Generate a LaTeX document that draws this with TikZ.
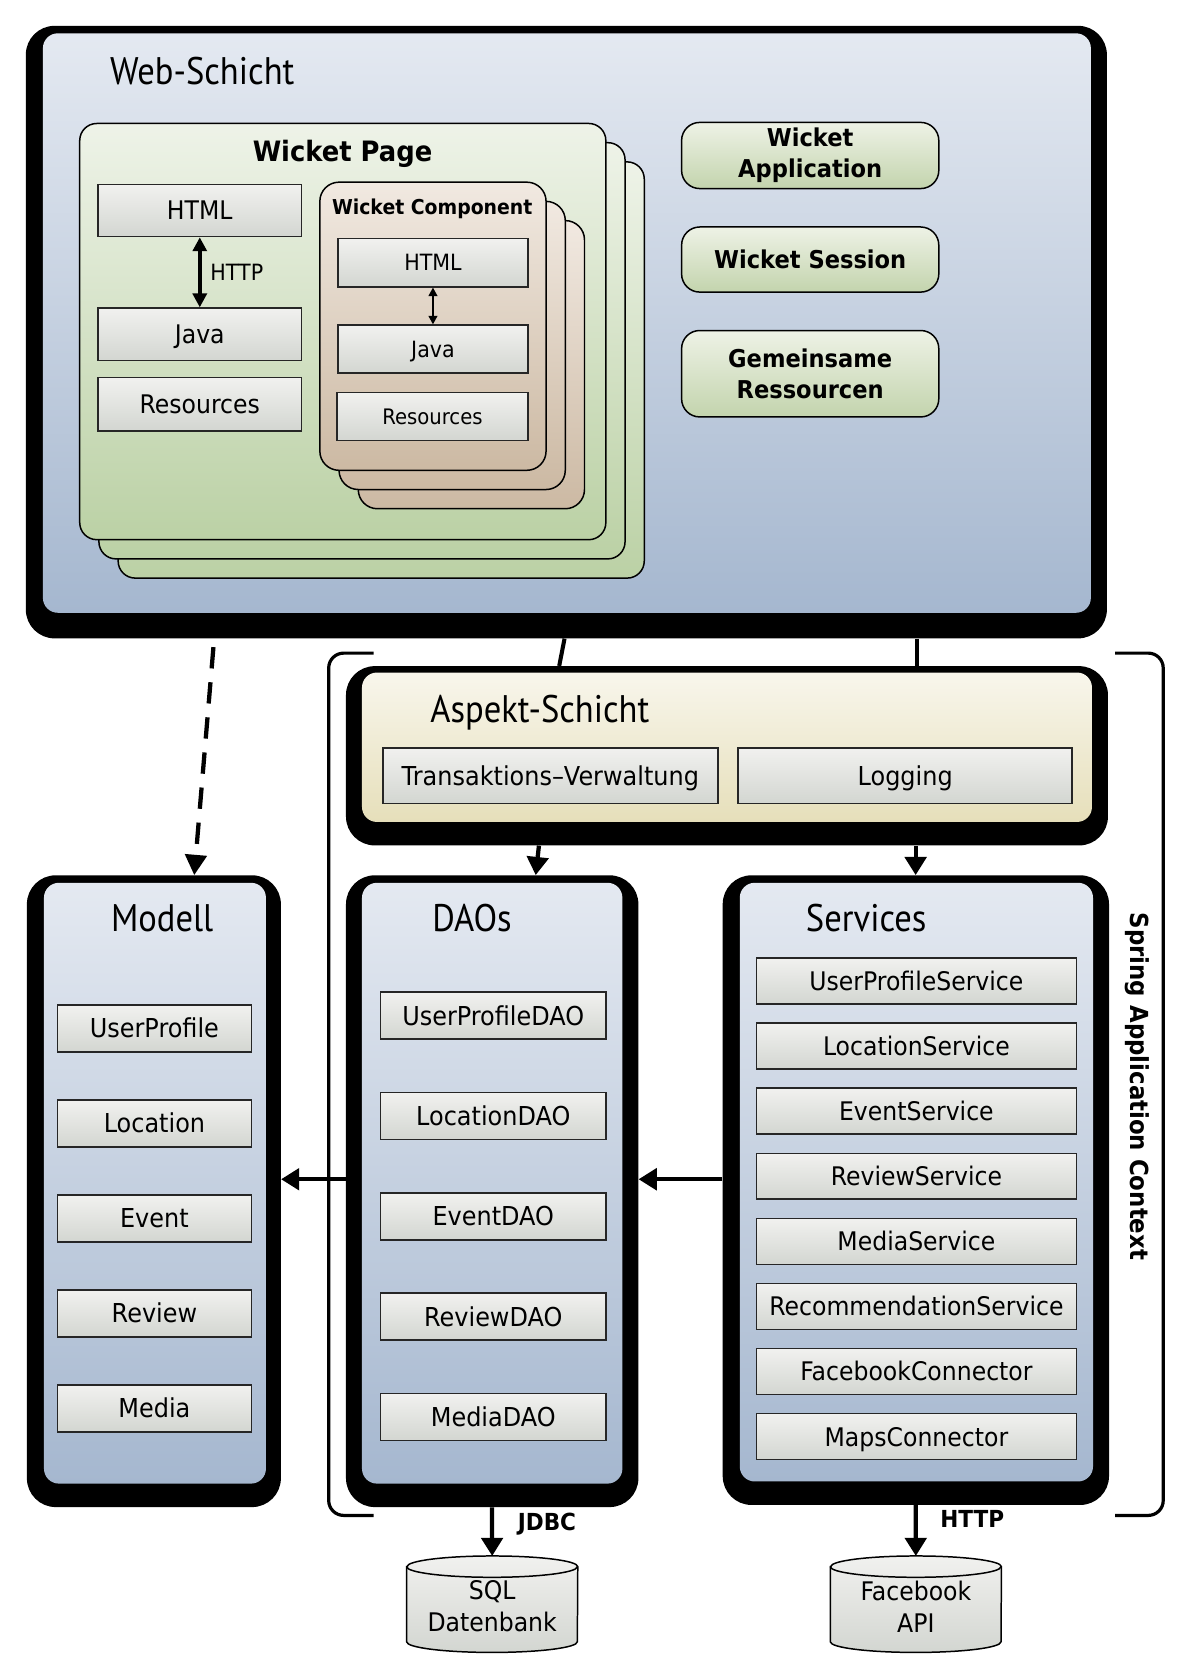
\documentclass[tikz,border=0pt]{standalone}
\usepackage{fontspec}
\setmainfont{DejaVu Sans}
\newfontfamily\luc[FakeStretch=0.92]{DejaVu Sans}
\newfontfamily\ttl[FakeStretch=0.9]{PT Sans}
\usetikzlibrary{arrows.meta,calc}
\definecolor{bluetop}{HTML}{E4E9F1}
\definecolor{bluebot}{HTML}{A5B7CF}
\definecolor{greentop}{HTML}{EEF3E8}
\definecolor{greenbot}{HTML}{BBD1A5}
\definecolor{btntop}{HTML}{EEF2E6}
\definecolor{btnbot}{HTML}{C3D4AD}
\definecolor{tantop}{HTML}{F1E9E1}
\definecolor{tanbot}{HTML}{CCB9A3}
\definecolor{yeltop}{HTML}{F8F6EC}
\definecolor{yelbot}{HTML}{E6DFBA}
\definecolor{itemtop}{HTML}{F1F1EF}
\definecolor{itembot}{HTML}{D3D6D1}
\tikzset{
  outerbox/.style={fill=black, rounded corners=27pt, inner sep=0pt, anchor=north west},
  bluebox/.style={top color=bluetop, bottom color=bluebot, rounded corners=14pt, inner sep=0pt, anchor=north west},
  yelbox/.style={top color=yeltop, bottom color=yelbot, rounded corners=14pt, inner sep=0pt, anchor=north west},
  pagebox/.style={draw=black, line width=1.4pt, top color=greentop, bottom color=greenbot, rounded corners=16pt, inner sep=0pt, anchor=north west, minimum width=493pt, minimum height=390pt},
  compbox/.style={draw=black, line width=1.4pt, top color=tantop, bottom color=tanbot, rounded corners=18pt, inner sep=0pt, anchor=north west, minimum width=212pt, minimum height=270pt},
  btnbox/.style={draw=black, line width=1.4pt, top color=btntop, bottom color=btnbot, rounded corners=17pt, inner sep=0pt, anchor=north west, minimum width=241pt, align=center, font={\luc\bfseries\fontsize{23}{29}\selectfont}},
  itembox/.style={draw=black!85, line width=1.4pt, top color=itemtop, bottom color=itembot, rectangle, inner sep=0pt, anchor=north west},
  itemfont/.style={font={\luc\fontsize{#1}{#1}\selectfont}, text height=\fpeval{0.76*#1}pt, text depth=\fpeval{0.03*#1}pt},
  titletext/.style={anchor=base west, inner sep=0pt, font={\ttl\fontsize{36}{40}\selectfont}},
  conn/.style={line width=3.8pt},
  arr/.style={line width=4pt, -{Triangle[length=17pt,width=20pt]}},
  dasharr/.style={line width=4pt, dash pattern=on 20pt off 13pt, -{Triangle[length=19pt,width=20pt]}},
  dbl/.style={line width=3.5pt, {Triangle[length=13pt,width=13pt]}-{Triangle[length=13pt,width=13pt]}},
  sdbl/.style={line width=2pt, {Triangle[length=8pt,width=8pt]}-{Triangle[length=8pt,width=8pt]}},
  bracket/.style={line width=3pt, rounded corners=14pt},
  cylfill/.style={draw=black, line width=1.4pt, top color=itemtop, bottom color=itembot},
}
\begin{document}
\begin{tikzpicture}[x=1pt,y=-1pt]
\useasboundingbox (0,0) rectangle (1110.4,1563);

% ---------------- Web-Schicht ----------------
\node[outerbox, minimum width=1013pt, minimum height=574pt] (webo) at (24,24) {};
\node[bluebox, minimum width=982pt, minimum height=543pt] (web) at (40,31) {};
\node[titletext] (webt) at (103,79) {Web-Schicht};

% Wicket Page stack
\node[pagebox] (wp3) at (110,151) {};
\node[pagebox] (wp2) at (92,133) {};
\node[pagebox] (wp) at (74,115) {};
\node[anchor=base, inner sep=0pt, font={\luc\bfseries\fontsize{26.3}{30}\selectfont}] (wpt) at (321,151) {Wicket Page};

\node[itembox, itemfont=24, minimum width=191pt, minimum height=49pt] (html1) at (91,172) {HTML};
\node[itembox, itemfont=24, minimum width=191pt, minimum height=49pt] (java1) at (91,288) {Java};
\node[itembox, itemfont=24, minimum width=191pt, minimum height=50pt] (res1) at (91,353) {Resources};
\draw[dbl] (html1.south) -- (java1.north);
\node[anchor=base west, inner sep=0pt, font={\luc\fontsize{21}{24}\selectfont}] (httpl) at (197,263) {HTTP};

% Wicket Component stack
\node[compbox] (wc3) at (335,206) {};
\node[compbox] (wc2) at (317,188) {};
\node[compbox] (wc) at (299,170) {};
\node[anchor=base, inner sep=0pt, font={\luc\bfseries\fontsize{19.2}{22}\selectfont}] (wct) at (405,201) {Wicket Component};
\node[itembox, itemfont=21, minimum width=178pt, minimum height=45pt] (html2) at (316,223) {HTML};
\node[itembox, itemfont=21, minimum width=178pt, minimum height=45pt] (java2) at (316,304) {Java};
\node[itembox, itemfont=20, minimum width=179pt, minimum height=45pt] (res2) at (315,367) {Resources};
\draw[sdbl] (html2.south) -- (java2.north);

% Buttons
\node[btnbox, minimum height=62pt] (wapp) at (638,114) {Wicket\\Application};
\node[btnbox, minimum height=61pt] (wsess) at (638,212) {Wicket Session};
\node[btnbox, minimum height=81pt] (gres) at (638,309) {Gemeinsame\\Ressourcen};

% ---------------- Aspekt-Schicht ----------------
\node[outerbox, minimum width=714pt, minimum height=168pt] (aspo) at (324,624) {};
\node[yelbox, minimum width=684pt, minimum height=140pt] (asp) at (339,630) {};
\node[titletext] (aspt) at (403,677) {Aspekt-Schicht};
\node[itembox, itemfont=24.4, minimum width=314pt, minimum height=52pt] (trans) at (358,700) {Transaktions–Verwaltung};
\node[itembox, itemfont=24.4, minimum width=313pt, minimum height=52pt] (logg) at (691,700) {Logging};

% ---------------- Modell ----------------
\node[outerbox, minimum width=238pt, minimum height=592pt] (modo) at (25,820) {};
\node[bluebox, minimum width=208pt, minimum height=563pt] (mod) at (41,827) {};
\node[titletext, anchor=base] (modt) at (152,873) {Modell};
\foreach \t/\y/\n in {UserProfile/941/m1, Location/1030/m2, Event/1119/m3, Review/1208/m4, Media/1297/m5}
  \node[itembox, itemfont=24.4, minimum width=182pt, minimum height=44pt] (\n) at (53,\y) {\t};

% ---------------- DAOs ----------------
\node[outerbox, minimum width=274pt, minimum height=592pt] (daoo) at (324,820) {};
\node[bluebox, minimum width=244pt, minimum height=563pt] (dao) at (339,827) {};
\node[titletext] (daot) at (405,873) {DAOs};
\foreach \t/\y/\n in {UserProfileDAO/929/d1, LocationDAO/1023/d2, EventDAO/1117/d3, ReviewDAO/1211/d4, MediaDAO/1305/d5}
  \node[itembox, itemfont=24.4, minimum width=211pt, minimum height=44pt] (\n) at (356,\y) {\t};

% ---------------- Services ----------------
\node[outerbox, minimum width=362pt, minimum height=590pt] (svco) at (677,820) {};
\node[bluebox, minimum width=331pt, minimum height=561pt] (svc) at (693,827) {};
\node[titletext] (svct) at (755,873) {Services};
\foreach \t/\y/\n in {UserProfileService/897/s1, LocationService/958/s2, EventService/1019/s3, ReviewService/1080/s4, MediaService/1141/s5, RecommendationService/1202/s6, FacebookConnector/1263/s7, MapsConnector/1324/s8}
  \node[itembox, itemfont=24, minimum width=300pt, minimum height=43pt] (\n) at (708,\y) {\t};

% ---------------- Spring bracket ----------------
\coordinate (bl1) at (350,612);
\coordinate (bl2) at (350,1420);
\coordinate (br1) at (1045,612);
\coordinate (br2) at (1045,1420);
\draw[bracket] (bl1) -- (308,612) -- (308,1420) -- (bl2);
\draw[bracket] (br1) -- (1090,612) -- (1090,1420) -- (br2);
\node[rotate=-90, inner sep=0pt, font={\luc\bfseries\fontsize{23.3}{26}\selectfont}] (spring) at (1066,1018) {Spring Application Context};

% ---------------- Databases ----------------
\node[anchor=north west, minimum width=160pt, minimum height=90pt, inner sep=0pt] (sql) at (381,1458) {};
\node[anchor=north west, minimum width=160pt, minimum height=90pt, inner sep=0pt] (fb) at (778,1458) {};
\foreach \c in {sql,fb}{
  \path[cylfill] ($(\c.north west)+(0,10)$) -- ($(\c.south west)+(0,-10)$)
     arc[start angle=180,end angle=360,x radius=80pt,y radius=10pt]
     -- ($(\c.north east)+(0,10)$)
     arc[start angle=0,end angle=180,x radius=80pt,y radius=10pt] -- cycle;
  \draw[line width=1.4pt] ($(\c.north west)+(0,10)$) arc[start angle=180,end angle=360,x radius=80pt,y radius=10pt];
}
\node[align=center, font={\luc\fontsize{24}{30}\selectfont}] (sqlt) at ($(sql.center)+(0,2)$) {SQL\\Datenbank};
\node[align=center, font={\luc\fontsize{24}{30}\selectfont}] (fbt) at ($(fb.center)+(0,2)$) {Facebook\\API};

% ---------------- Connectors ----------------
\draw[conn] ($(webo.south west)+(505,0)$) -- ($(aspo.north west)+(200,0)$);
\draw[conn] ($(webo.south west)+(835,0)$) -- ($(aspo.north west)+(535,0)$);
\draw[arr] ($(aspo.south west)+(181,0)$) -- ($(daoo.north west)+(178,0)$);
\draw[arr] ($(aspo.south west)+(534,0)$) -- ($(svco.north west)+(181,0)$);
\draw[dasharr] ($(webo.south west)+(176,8)$) -- ($(modo.north west)+(157,0)$);
\draw[arr] ($(daoo.north west)+(0,285)$) -- ($(modo.north east)+(0,285)$);
\draw[arr] ($(svco.north west)+(0,285)$) -- ($(daoo.north east)+(0,285)$);
\draw[arr] ($(daoo.south west)+(137,0)$) -- (sql.north);
\draw[arr] ($(svco.south west)+(181,0)$) -- (fb.north);
\node[anchor=base west, inner sep=0pt, font={\luc\bfseries\fontsize{22}{24}\selectfont}] (jdbc) at (485,1434) {JDBC};
\node[anchor=base west, inner sep=0pt, font={\luc\bfseries\fontsize{22}{24}\selectfont}] (httpb) at (881,1431) {HTTP};
\end{tikzpicture}
\end{document}
